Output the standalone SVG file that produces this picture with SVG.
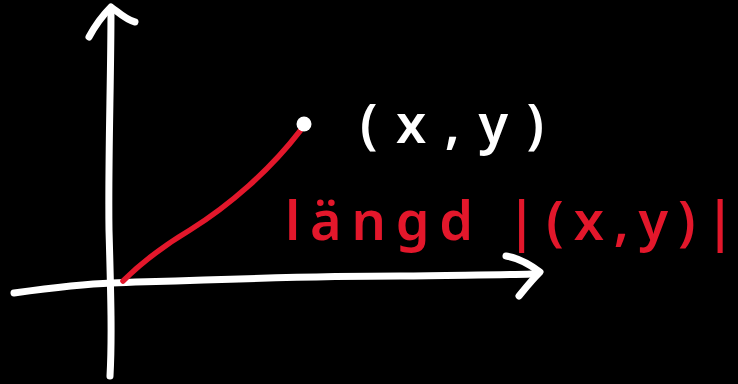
<svg xmlns="http://www.w3.org/2000/svg" width="738" height="384" viewBox="0 0 738 384">
<style>
.w{fill:none;stroke:#fff;stroke-width:7;stroke-linecap:round;stroke-linejoin:round}
.r{fill:none;stroke:#e3172b;stroke-width:5.5;stroke-linecap:round;stroke-linejoin:round}
.tw{fill:#fff;font-family:"Noto Sans","DejaVu Sans",sans-serif;font-size:54px;font-weight:600}
.tr{fill:#e3172b;font-family:"Noto Sans","DejaVu Sans",sans-serif;font-size:54px;font-weight:600}
</style>
<rect width="738" height="384" fill="#000"/>
<g id="axes">
<path class="w" d="M110,376 C112,340 111,300 109,230 C108,160 111,80 111,8"/>
<path class="w" d="M89,37 C96,24 104,14 111,7 C118,12 126,20 135,22"/>
<path class="w" d="M14,293 C50,288 80,284 112,283 C200,280 300,276 400,276 C460,275 500,275 532,274"/>
<path class="w" d="M506,256 C520,258 532,266 540,272 C530,282 524,290 519,296"/>
</g>
<g id="vector">
<path class="r" d="M123,281 C140,264 160,248 190,230 C230,205 270,170 300,131"/>
<circle cx="304" cy="124" r="7.5" fill="#fff"/>
</g>
<g id="labels">
<text class="tw" x="360" y="143" textLength="184" lengthAdjust="spacing">(x,y)</text>
<text class="tr" x="285" y="240" textLength="450" lengthAdjust="spacing">längd |(x,y)|</text>
</g>
</svg>
